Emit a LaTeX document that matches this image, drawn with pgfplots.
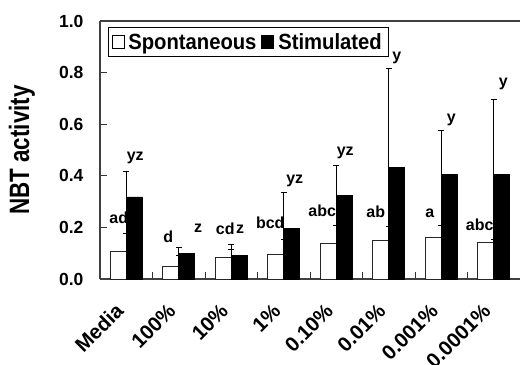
\documentclass[border=0pt]{standalone}
\usepackage{pgfplots}
\pgfplotsset{compat=1.18}
\usepackage{pgfplotstable}
\usepackage{fontspec}
\setmainfont{Liberation Sans}
\newfontfamily\legfont{Liberation Sans}[FakeStretch=0.92]
\newfontfamily\ylabfont{Liberation Sans}[FakeStretch=0.8]

\pgfplotstableread{
x s se t te
0 0.108 0.070 0.318 0.100
1 0.050 0.043 0.099 0.025
2 0.084 0.050 0.091 0.022
3 0.094 0.059 0.197 0.139
4 0.138 0.068 0.324 0.116
5 0.148 0.054 0.434 0.382
6 0.163 0.043 0.405 0.170
7 0.143 0.010 0.405 0.289
}\data

\pgfplotstableread{
lx ly lab
-0.143 0.236 ad
0.800 0.162 d
1.886 0.193 cd
2.743 0.216 bcd
3.733 0.266 abc
4.752 0.259 ab
5.781 0.255 a
6.733 0.212 abc
}\slabels

\pgfplotstableread{
lx ly lab
0.171 0.471 yz
1.371 0.197 z
2.171 0.193 z
3.210 0.382 yz
4.171 0.488 yz
5.152 0.856 y
6.190 0.618 y
7.180 0.756 y
}\tlabels

\begin{document}
\begin{tikzpicture}
\begin{axis}[
  name=ax,
  scale only axis,
  width=420bp, height=258bp,
  xmin=-0.5, xmax=7.5,
  ymin=0, ymax=1,
  axis x line*=bottom, axis y line*=left,
  axis line style={-, black!75, line width=1.2bp},
  every outer x axis line/.append style={-},
  every outer y axis line/.append style={-},
  xtick={0,1,2,3,4,5,6,7},
  xticklabels={Media,100\%,10\%,1\%,0.10\%,0.01\%,0.001\%,0.0001\%},
  minor xtick={0.5,1.5,2.5,3.5,4.5,5.5,6.5},
  major x tick style={draw=none},
  minor x tick style={black!80, line width=1bp},
  y tick style={black!80, line width=1bp},
  tick align=inside,
  major tick length=7bp, minor tick length=7bp,
  ytick={0,0.2,0.4,0.6,0.8,1},
  yticklabel style={/pgf/number format/fixed, /pgf/number format/fixed zerofill, /pgf/number format/precision=1, /pgf/number format/assume math mode=true, font=\bfseries\fontsize{17.5bp}{19bp}\selectfont, xshift=-13bp},
  xticklabel style={font=\bfseries\fontsize{20.5bp}{22bp}\selectfont, inner sep=0pt, xshift=-12bp, yshift=-23bp, rotate=45, anchor=north east},
  every axis y label/.style={at={(axis description cs:0,0.5)}, xshift=-78bp, rotate=90, anchor=center},
  ylabel={\ylabfont\bfseries\fontsize{28bp}{30bp}\selectfont NBT activity},
  legend columns=2,
  legend style={at={(0,1)}, anchor=north west, xshift=8bp, yshift=-6bp, draw=black, line width=1bp,
    font=\legfont\bfseries\fontsize{22bp}{24bp}\selectfont, inner xsep=3bp, inner ysep=4bp,
    nodes={inner xsep=4bp, inner ysep=2bp},
    /tikz/every even column/.append style={column sep=1bp}},
  legend cell align=left,
  after end axis/.code={\draw[black!75, line width=1.2bp] (rel axis cs:0,1) -- (rel axis cs:1,1);},
]
\addplot[ybar, bar width=0.305, bar shift=-0.1525, fill=white, draw=black!85, line width=0.8bp,
  legend image code/.code={\draw[fill=white, draw=black, line width=0.8bp] (0bp,-6.5bp) rectangle (12bp,6.5bp);},
  error bars/.cd, y dir=plus, y explicit,
  error bar style={black, line width=0.9bp},
  error mark options={rotate=90, mark size=3bp, line width=0.9bp, black}]
  table[x=x, y=s, y error=se]{\data};
\addlegendentry{Spontaneous}
\addplot[ybar, bar width=0.305, bar shift=0.1525, fill=black, draw=black, line width=0.8bp,
  legend image code/.code={\draw[fill=black, draw=black, line width=0.8bp] (0bp,-6.5bp) rectangle (12bp,6.5bp);},
  error bars/.cd, y dir=plus, y explicit,
  error bar style={black, line width=0.9bp},
  error mark options={rotate=90, mark size=3bp, line width=0.9bp, black}]
  table[x=x, y=t, y error=te]{\data};
\addlegendentry{Stimulated}
\addplot[only marks, mark=none, forget plot,
  nodes near coords, point meta=explicit symbolic,
  nodes near coords style={anchor=center, font=\bfseries\fontsize{16bp}{18bp}\selectfont, inner sep=0pt, text=black}]
  table[x=lx, y=ly, meta=lab]{\slabels};
\addplot[only marks, mark=none, forget plot,
  nodes near coords, point meta=explicit symbolic,
  nodes near coords style={anchor=center, font=\bfseries\fontsize{16bp}{18bp}\selectfont, inner sep=0pt, text=black}]
  table[x=lx, y=ly, meta=lab]{\tlabels};
\end{axis}
\pgfresetboundingbox
\path ([shift={(-100bp,-85bp)}]ax.south west) rectangle ([shift={(1bp,21bp)}]ax.north east);
\end{tikzpicture}
\end{document}
